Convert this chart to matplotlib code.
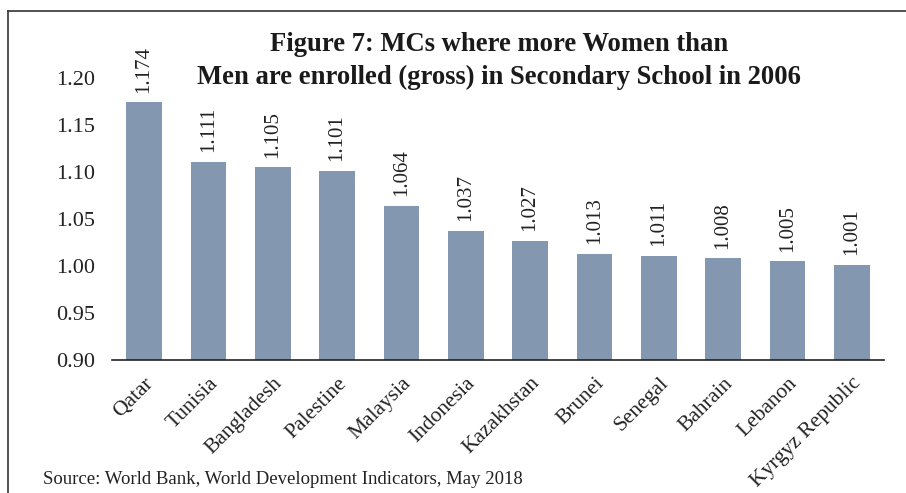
import matplotlib
matplotlib.use("Agg")
import matplotlib.pyplot as plt
from matplotlib.lines import Line2D

countries = ["Qatar", "Tunisia", "Bangladesh", "Palestine", "Malaysia", "Indonesia",
             "Kazakhstan", "Brunei", "Senegal", "Bahrain", "Lebanon", "Kyrgyz Republic"]
values = [1.174, 1.111, 1.105, 1.101, 1.064, 1.037, 1.027, 1.013, 1.011, 1.008, 1.005, 1.001]
yticks = [0.90, 0.95, 1.00, 1.05, 1.10, 1.15, 1.20]

plt.rcParams['font.family'] = ['Liberation Serif', 'DejaVu Serif']

W, H = 906, 493
fig = plt.figure(figsize=(W / 100, H / 100), dpi=100)
ax = fig.add_axes([112 / W, 1 - 360 / H, (884 - 112) / W, (360 - 78) / H])

bar_color = "#8497B0"
x = list(range(len(countries)))
ax.bar(x, values, width=0.55, color=bar_color, bottom=0)
ax.set_ylim(0.90, 1.20)
ax.set_xlim(-0.5, len(countries) - 0.5)
ax.set_yticks(yticks)
ax.set_yticklabels([f"{v:.2f}" for v in yticks], fontsize=16, color="#222222")
ax.set_xticks(x)
ax.set_xticklabels(countries, rotation=45, ha="right", rotation_mode="anchor",
                   fontsize=15.5, color="#222222")
ax.tick_params(axis="y", length=0, pad=12.5)
ax.tick_params(axis="x", length=0, pad=10)

for s in ["top", "right", "left"]:
    ax.spines[s].set_visible(False)
ax.spines["bottom"].set_color("#222222")
ax.spines["bottom"].set_linewidth(1.2)

for xi, v in zip(x, values):
    ax.annotate(f"{v:.3f}", (xi, v), xytext=(0, 7), textcoords="offset points",
                rotation=90, ha="center", va="bottom", fontsize=15, color="#222222")

fig.text(0.551, 1 - 32 / H, "Figure 7: MCs where more Women than\nMen are enrolled (gross) in Secondary School in 2006",
         ha="center", va="top", fontsize=19.2, fontweight="bold", color="#1a1a1a",
         linespacing=1.42)

fig.text(43 / W, 1 - 480 / H, "Source: World Bank, World Development Indicators, May 2018",
         ha="left", va="center", fontsize=13.5, color="#222222")

fig.add_artist(Line2D([8 / W, 8 / W], [0, 1 - 11 / H], transform=fig.transFigure,
                      color="#333333", linewidth=1.2))
fig.add_artist(Line2D([8 / W, 1], [1 - 11 / H, 1 - 11 / H], transform=fig.transFigure,
                      color="#333333", linewidth=1.2))

fig.savefig("out.png", dpi=100)
